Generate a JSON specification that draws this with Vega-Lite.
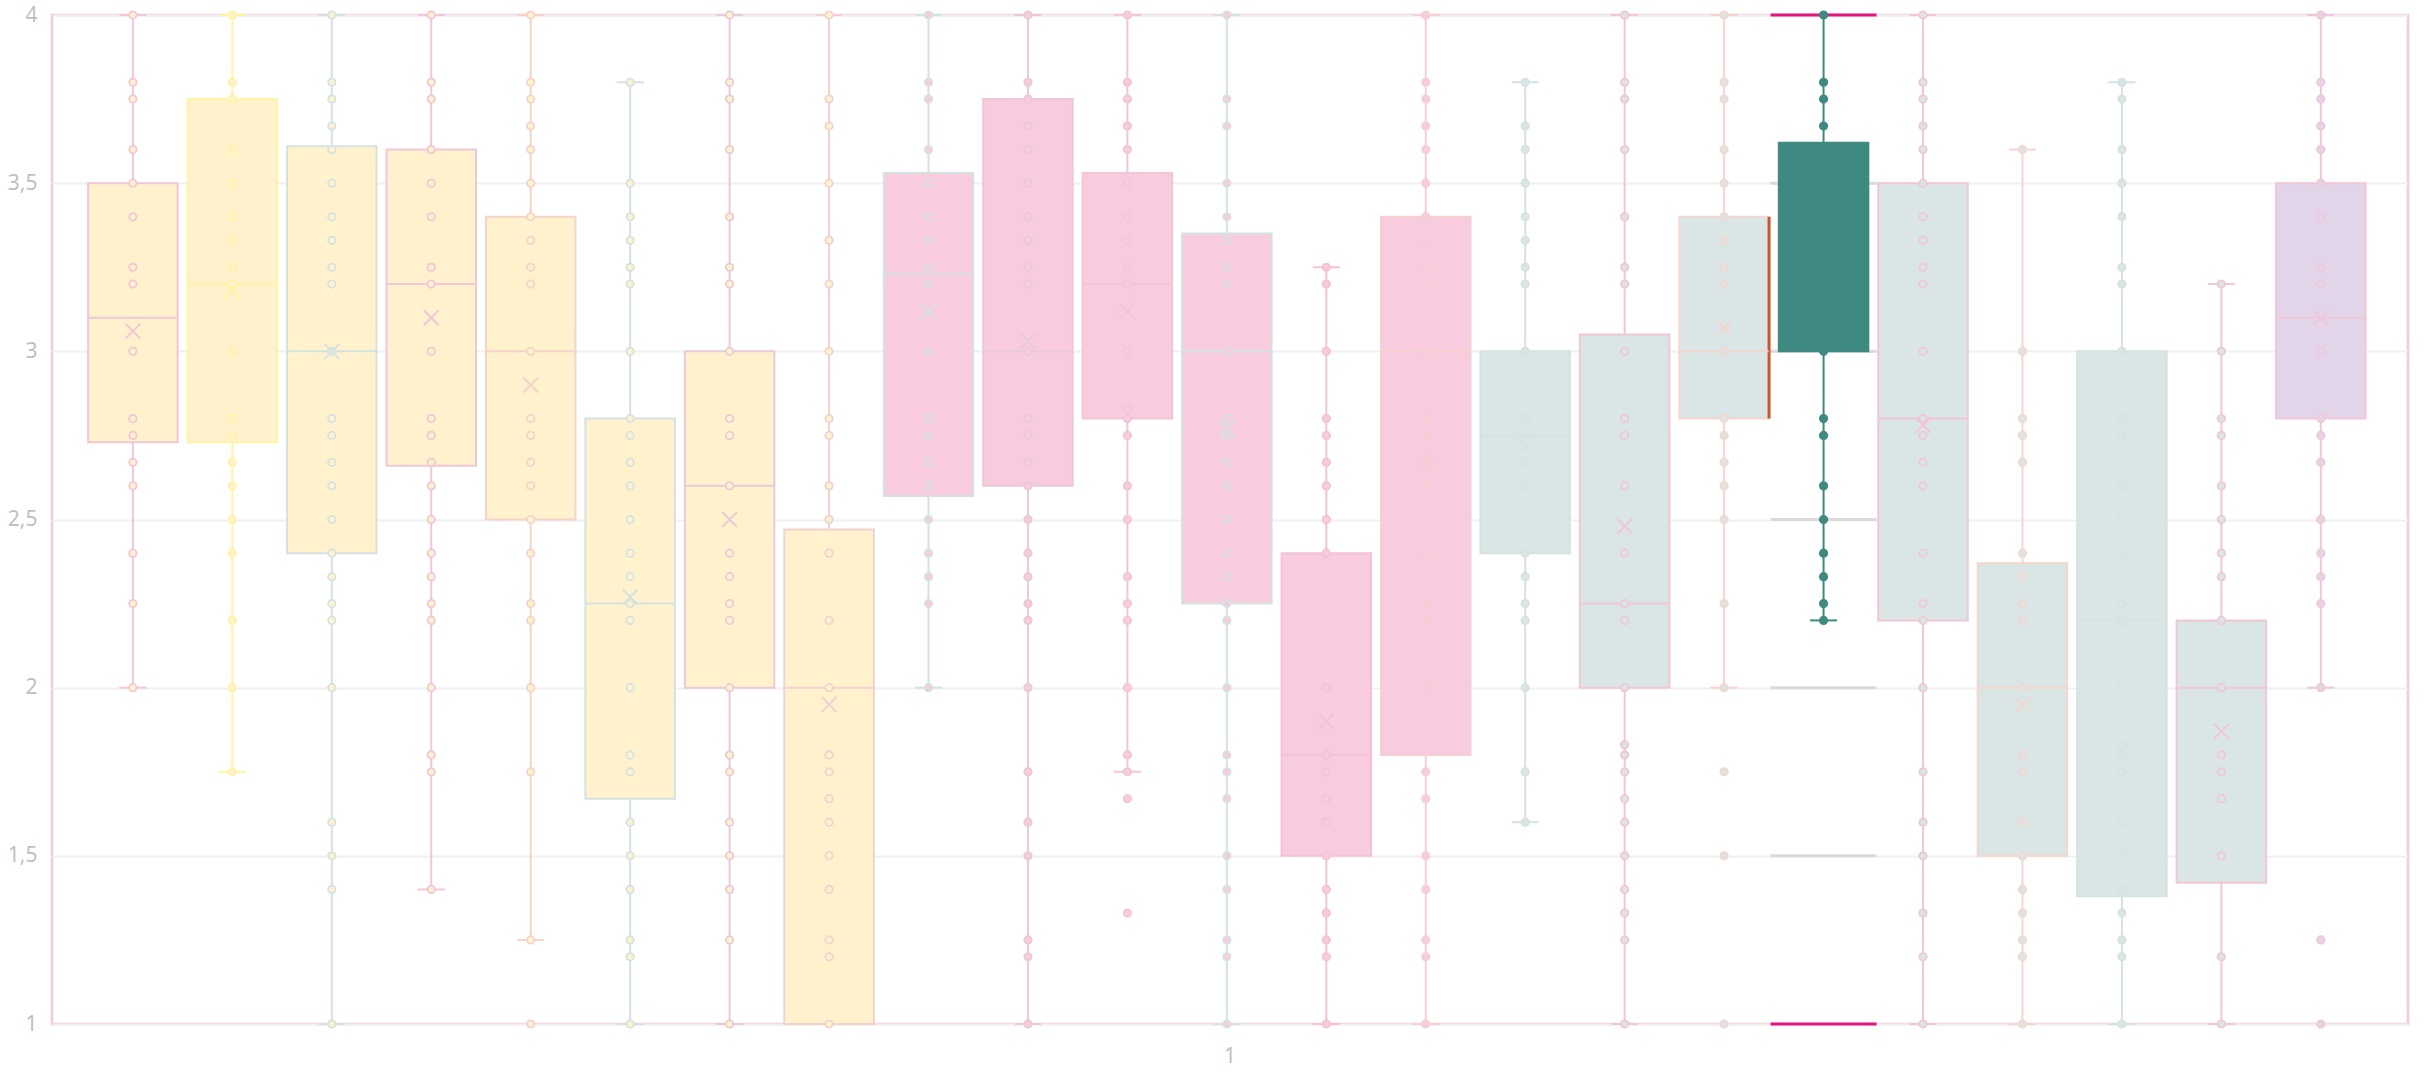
{
"$schema":"https://vega.github.io/schema/vega-lite/v6.json",
"width":2356,"height":1009,
"autosize":{"type":"none"},
"padding":{"left":52,"top":15,"right":17,"bottom":53},
"background":"white",
"config":{"view":{"stroke":"#F5C8DA","strokeWidth":2.5},"font":"Noto Sans","legend":{"disable":true}},
"datasets":{
"boxes":[
{"s":"S1","lo":2,"q1":2.73,"med":3.1,"mean":3.06,"q3":3.5,"hi":4},
{"s":"S2","lo":1.75,"q1":2.73,"med":3.2,"mean":3.18,"q3":3.75,"hi":4},
{"s":"S3","lo":1,"q1":2.4,"med":3,"mean":3,"q3":3.61,"hi":4},
{"s":"S4","lo":1.4,"q1":2.66,"med":3.2,"mean":3.1,"q3":3.6,"hi":4},
{"s":"S5","lo":1.25,"q1":2.5,"med":3,"mean":2.9,"q3":3.4,"hi":4},
{"s":"S6","lo":1,"q1":1.67,"med":2.25,"mean":2.27,"q3":2.8,"hi":3.8},
{"s":"S7","lo":1,"q1":2,"med":2.6,"mean":2.5,"q3":3,"hi":4},
{"s":"S8","lo":1,"q1":1,"med":2,"mean":1.95,"q3":2.47,"hi":4},
{"s":"S9","lo":2,"q1":2.57,"med":3.23,"mean":3.12,"q3":3.53,"hi":4},
{"s":"S10","lo":1,"q1":2.6,"med":3,"mean":3.03,"q3":3.75,"hi":4},
{"s":"S11","lo":1.75,"q1":2.8,"med":3.2,"mean":3.12,"q3":3.53,"hi":4},
{"s":"S12","lo":1,"q1":2.25,"med":3,"mean":2.77,"q3":3.35,"hi":4},
{"s":"S13","lo":1,"q1":1.5,"med":1.8,"mean":1.9,"q3":2.4,"hi":3.25},
{"s":"S14","lo":1,"q1":1.8,"med":3,"mean":2.67,"q3":3.4,"hi":4},
{"s":"S15","lo":1.6,"q1":2.4,"med":2.75,"mean":2.72,"q3":3,"hi":3.8},
{"s":"S16","lo":1,"q1":2,"med":2.25,"mean":2.48,"q3":3.05,"hi":4},
{"s":"S17","lo":2,"q1":2.8,"med":3,"mean":3.07,"q3":3.4,"hi":4},
{"s":"S18","lo":2.2,"q1":3,"med":3.4,"mean":3.34,"q3":3.62,"hi":4},
{"s":"S19","lo":1,"q1":2.2,"med":2.8,"mean":2.78,"q3":3.5,"hi":4},
{"s":"S20","lo":1,"q1":1.5,"med":2,"mean":1.95,"q3":2.37,"hi":3.6},
{"s":"S21","lo":1,"q1":1.38,"med":2.2,"mean":2.2,"q3":3,"hi":3.8},
{"s":"S22","lo":1,"q1":1.42,"med":2,"mean":1.87,"q3":2.2,"hi":3.2},
{"s":"S23","lo":2,"q1":2.8,"med":3.1,"mean":3.1,"q3":3.5,"hi":4}
],
"hl":[{"s":"S18","v":1.5},{"s":"S18","v":2},{"s":"S18","v":2.5},{"s":"S18","v":3},{"s":"S18","v":3.5}],
"hlm":[{"s":"S18","v":4},{"s":"S18","v":1}],
"pts":[
{"s":"S1","v":4},{"s":"S1","v":3.8},{"s":"S1","v":3.75},{"s":"S1","v":3.6},{"s":"S1","v":3.5},{"s":"S1","v":3.4},{"s":"S1","v":3.25},{"s":"S1","v":3.2},{"s":"S1","v":3},{"s":"S1","v":2.8},{"s":"S1","v":2.75},{"s":"S1","v":2.67},{"s":"S1","v":2.6},{"s":"S1","v":2.4},{"s":"S1","v":2.25},{"s":"S1","v":2},
{"s":"S2","v":4},{"s":"S2","v":3.8},{"s":"S2","v":3.75},{"s":"S2","v":3.6},{"s":"S2","v":3.5},{"s":"S2","v":3.4},{"s":"S2","v":3.33},{"s":"S2","v":3.25},{"s":"S2","v":3.2},{"s":"S2","v":3},{"s":"S2","v":2.8},{"s":"S2","v":2.75},{"s":"S2","v":2.67},{"s":"S2","v":2.6},{"s":"S2","v":2.5},{"s":"S2","v":2.4},{"s":"S2","v":2.2},{"s":"S2","v":2},{"s":"S2","v":1.75},
{"s":"S3","v":4},{"s":"S3","v":3.8},{"s":"S3","v":3.75},{"s":"S3","v":3.67},{"s":"S3","v":3.6},{"s":"S3","v":3.5},{"s":"S3","v":3.4},{"s":"S3","v":3.33},{"s":"S3","v":3.25},{"s":"S3","v":3.2},{"s":"S3","v":3},{"s":"S3","v":2.8},{"s":"S3","v":2.75},{"s":"S3","v":2.67},{"s":"S3","v":2.6},{"s":"S3","v":2.5},{"s":"S3","v":2.4},{"s":"S3","v":2.33},{"s":"S3","v":2.25},{"s":"S3","v":2.2},{"s":"S3","v":2},{"s":"S3","v":1.6},{"s":"S3","v":1.5},{"s":"S3","v":1.4},{"s":"S3","v":1},
{"s":"S4","v":4},{"s":"S4","v":3.8},{"s":"S4","v":3.75},{"s":"S4","v":3.6},{"s":"S4","v":3.5},{"s":"S4","v":3.4},{"s":"S4","v":3.25},{"s":"S4","v":3.2},{"s":"S4","v":3},{"s":"S4","v":2.8},{"s":"S4","v":2.75},{"s":"S4","v":2.67},{"s":"S4","v":2.6},{"s":"S4","v":2.5},{"s":"S4","v":2.4},{"s":"S4","v":2.33},{"s":"S4","v":2.25},{"s":"S4","v":2.2},{"s":"S4","v":2},{"s":"S4","v":1.8},{"s":"S4","v":1.75},{"s":"S4","v":1.4},
{"s":"S5","v":4},{"s":"S5","v":3.8},{"s":"S5","v":3.75},{"s":"S5","v":3.67},{"s":"S5","v":3.6},{"s":"S5","v":3.5},{"s":"S5","v":3.4},{"s":"S5","v":3.33},{"s":"S5","v":3.25},{"s":"S5","v":3.2},{"s":"S5","v":3},{"s":"S5","v":2.8},{"s":"S5","v":2.75},{"s":"S5","v":2.67},{"s":"S5","v":2.6},{"s":"S5","v":2.5},{"s":"S5","v":2.4},{"s":"S5","v":2.25},{"s":"S5","v":2.2},{"s":"S5","v":2},{"s":"S5","v":1.75},{"s":"S5","v":1.25},{"s":"S5","v":1},
{"s":"S6","v":3.8},{"s":"S6","v":3.5},{"s":"S6","v":3.4},{"s":"S6","v":3.33},{"s":"S6","v":3.25},{"s":"S6","v":3.2},{"s":"S6","v":3},{"s":"S6","v":2.8},{"s":"S6","v":2.75},{"s":"S6","v":2.67},{"s":"S6","v":2.6},{"s":"S6","v":2.5},{"s":"S6","v":2.4},{"s":"S6","v":2.33},{"s":"S6","v":2.25},{"s":"S6","v":2.2},{"s":"S6","v":2},{"s":"S6","v":1.8},{"s":"S6","v":1.75},{"s":"S6","v":1.6},{"s":"S6","v":1.5},{"s":"S6","v":1.4},{"s":"S6","v":1.25},{"s":"S6","v":1.2},{"s":"S6","v":1},
{"s":"S7","v":4},{"s":"S7","v":3.8},{"s":"S7","v":3.75},{"s":"S7","v":3.6},{"s":"S7","v":3.4},{"s":"S7","v":3.25},{"s":"S7","v":3.2},{"s":"S7","v":3},{"s":"S7","v":2.8},{"s":"S7","v":2.75},{"s":"S7","v":2.6},{"s":"S7","v":2.4},{"s":"S7","v":2.33},{"s":"S7","v":2.25},{"s":"S7","v":2.2},{"s":"S7","v":2},{"s":"S7","v":1.8},{"s":"S7","v":1.75},{"s":"S7","v":1.6},{"s":"S7","v":1.5},{"s":"S7","v":1.4},{"s":"S7","v":1.25},{"s":"S7","v":1},
{"s":"S8","v":4},{"s":"S8","v":3.75},{"s":"S8","v":3.67},{"s":"S8","v":3.5},{"s":"S8","v":3.33},{"s":"S8","v":3.2},{"s":"S8","v":3},{"s":"S8","v":2.8},{"s":"S8","v":2.75},{"s":"S8","v":2.6},{"s":"S8","v":2.5},{"s":"S8","v":2.4},{"s":"S8","v":2.2},{"s":"S8","v":2},{"s":"S8","v":1.8},{"s":"S8","v":1.75},{"s":"S8","v":1.67},{"s":"S8","v":1.6},{"s":"S8","v":1.5},{"s":"S8","v":1.4},{"s":"S8","v":1.25},{"s":"S8","v":1.2},{"s":"S8","v":1},
{"s":"S9","v":4},{"s":"S9","v":3.8},{"s":"S9","v":3.75},{"s":"S9","v":3.6},{"s":"S9","v":3.5},{"s":"S9","v":3.4},{"s":"S9","v":3.33},{"s":"S9","v":3.25},{"s":"S9","v":3.2},{"s":"S9","v":3},{"s":"S9","v":2.8},{"s":"S9","v":2.75},{"s":"S9","v":2.67},{"s":"S9","v":2.6},{"s":"S9","v":2.5},{"s":"S9","v":2.4},{"s":"S9","v":2.33},{"s":"S9","v":2.25},{"s":"S9","v":2},
{"s":"S10","v":4},{"s":"S10","v":3.8},{"s":"S10","v":3.75},{"s":"S10","v":3.67},{"s":"S10","v":3.6},{"s":"S10","v":3.5},{"s":"S10","v":3.4},{"s":"S10","v":3.33},{"s":"S10","v":3.25},{"s":"S10","v":3.2},{"s":"S10","v":3},{"s":"S10","v":2.8},{"s":"S10","v":2.75},{"s":"S10","v":2.67},{"s":"S10","v":2.6},{"s":"S10","v":2.5},{"s":"S10","v":2.4},{"s":"S10","v":2.33},{"s":"S10","v":2.25},{"s":"S10","v":2.2},{"s":"S10","v":2},{"s":"S10","v":1.75},{"s":"S10","v":1.6},{"s":"S10","v":1.5},{"s":"S10","v":1.25},{"s":"S10","v":1.2},{"s":"S10","v":1},
{"s":"S11","v":4},{"s":"S11","v":3.8},{"s":"S11","v":3.75},{"s":"S11","v":3.67},{"s":"S11","v":3.6},{"s":"S11","v":3.5},{"s":"S11","v":3.4},{"s":"S11","v":3.33},{"s":"S11","v":3.25},{"s":"S11","v":3.2},{"s":"S11","v":3},{"s":"S11","v":2.83},{"s":"S11","v":2.8},{"s":"S11","v":2.75},{"s":"S11","v":2.6},{"s":"S11","v":2.5},{"s":"S11","v":2.33},{"s":"S11","v":2.25},{"s":"S11","v":2.2},{"s":"S11","v":2},{"s":"S11","v":1.8},{"s":"S11","v":1.75},{"s":"S11","v":1.67},{"s":"S11","v":1.33},
{"s":"S12","v":4},{"s":"S12","v":3.75},{"s":"S12","v":3.67},{"s":"S12","v":3.5},{"s":"S12","v":3.4},{"s":"S12","v":3.33},{"s":"S12","v":3.25},{"s":"S12","v":3.2},{"s":"S12","v":3},{"s":"S12","v":2.8},{"s":"S12","v":2.75},{"s":"S12","v":2.67},{"s":"S12","v":2.6},{"s":"S12","v":2.5},{"s":"S12","v":2.4},{"s":"S12","v":2.33},{"s":"S12","v":2.25},{"s":"S12","v":2.2},{"s":"S12","v":2},{"s":"S12","v":1.8},{"s":"S12","v":1.75},{"s":"S12","v":1.67},{"s":"S12","v":1.5},{"s":"S12","v":1.4},{"s":"S12","v":1.25},{"s":"S12","v":1.2},{"s":"S12","v":1},
{"s":"S13","v":3.25},{"s":"S13","v":3.2},{"s":"S13","v":3},{"s":"S13","v":2.8},{"s":"S13","v":2.75},{"s":"S13","v":2.67},{"s":"S13","v":2.6},{"s":"S13","v":2.5},{"s":"S13","v":2.4},{"s":"S13","v":2},{"s":"S13","v":1.8},{"s":"S13","v":1.75},{"s":"S13","v":1.67},{"s":"S13","v":1.6},{"s":"S13","v":1.5},{"s":"S13","v":1.4},{"s":"S13","v":1.33},{"s":"S13","v":1.25},{"s":"S13","v":1.2},{"s":"S13","v":1},
{"s":"S14","v":4},{"s":"S14","v":3.8},{"s":"S14","v":3.75},{"s":"S14","v":3.67},{"s":"S14","v":3.6},{"s":"S14","v":3.5},{"s":"S14","v":3.4},{"s":"S14","v":3.33},{"s":"S14","v":3.25},{"s":"S14","v":3.2},{"s":"S14","v":3},{"s":"S14","v":2.8},{"s":"S14","v":2.75},{"s":"S14","v":2.6},{"s":"S14","v":2.4},{"s":"S14","v":2.25},{"s":"S14","v":2.2},{"s":"S14","v":2},{"s":"S14","v":1.75},{"s":"S14","v":1.67},{"s":"S14","v":1.5},{"s":"S14","v":1.4},{"s":"S14","v":1.25},{"s":"S14","v":1.2},{"s":"S14","v":1},
{"s":"S15","v":3.8},{"s":"S15","v":3.67},{"s":"S15","v":3.6},{"s":"S15","v":3.5},{"s":"S15","v":3.4},{"s":"S15","v":3.33},{"s":"S15","v":3.25},{"s":"S15","v":3.2},{"s":"S15","v":3},{"s":"S15","v":2.8},{"s":"S15","v":2.67},{"s":"S15","v":2.6},{"s":"S15","v":2.4},{"s":"S15","v":2.33},{"s":"S15","v":2.25},{"s":"S15","v":2.2},{"s":"S15","v":2},{"s":"S15","v":1.75},{"s":"S15","v":1.6},
{"s":"S16","v":4},{"s":"S16","v":3.8},{"s":"S16","v":3.75},{"s":"S16","v":3.6},{"s":"S16","v":3.4},{"s":"S16","v":3.25},{"s":"S16","v":3.2},{"s":"S16","v":3},{"s":"S16","v":2.8},{"s":"S16","v":2.75},{"s":"S16","v":2.6},{"s":"S16","v":2.4},{"s":"S16","v":2.25},{"s":"S16","v":2.2},{"s":"S16","v":2},{"s":"S16","v":1.83},{"s":"S16","v":1.8},{"s":"S16","v":1.75},{"s":"S16","v":1.67},{"s":"S16","v":1.6},{"s":"S16","v":1.5},{"s":"S16","v":1.4},{"s":"S16","v":1.33},{"s":"S16","v":1.25},{"s":"S16","v":1},
{"s":"S17","v":4},{"s":"S17","v":3.8},{"s":"S17","v":3.75},{"s":"S17","v":3.6},{"s":"S17","v":3.5},{"s":"S17","v":3.4},{"s":"S17","v":3.33},{"s":"S17","v":3.25},{"s":"S17","v":3.2},{"s":"S17","v":3},{"s":"S17","v":2.8},{"s":"S17","v":2.75},{"s":"S17","v":2.67},{"s":"S17","v":2.6},{"s":"S17","v":2.5},{"s":"S17","v":2.25},{"s":"S17","v":2},{"s":"S17","v":1.75},{"s":"S17","v":1.5},{"s":"S17","v":1},
{"s":"S18","v":4},{"s":"S18","v":3.8},{"s":"S18","v":3.75},{"s":"S18","v":3.67},{"s":"S18","v":3.6},{"s":"S18","v":3.5},{"s":"S18","v":3.4},{"s":"S18","v":3.25},{"s":"S18","v":3.2},{"s":"S18","v":3},{"s":"S18","v":2.8},{"s":"S18","v":2.75},{"s":"S18","v":2.6},{"s":"S18","v":2.5},{"s":"S18","v":2.4},{"s":"S18","v":2.33},{"s":"S18","v":2.25},{"s":"S18","v":2.2},
{"s":"S19","v":4},{"s":"S19","v":3.8},{"s":"S19","v":3.75},{"s":"S19","v":3.67},{"s":"S19","v":3.6},{"s":"S19","v":3.5},{"s":"S19","v":3.4},{"s":"S19","v":3.33},{"s":"S19","v":3.25},{"s":"S19","v":3.2},{"s":"S19","v":3},{"s":"S19","v":2.8},{"s":"S19","v":2.75},{"s":"S19","v":2.67},{"s":"S19","v":2.6},{"s":"S19","v":2.4},{"s":"S19","v":2.25},{"s":"S19","v":2.2},{"s":"S19","v":2},{"s":"S19","v":1.75},{"s":"S19","v":1.6},{"s":"S19","v":1.5},{"s":"S19","v":1.33},{"s":"S19","v":1.2},{"s":"S19","v":1},
{"s":"S20","v":3.6},{"s":"S20","v":3},{"s":"S20","v":2.8},{"s":"S20","v":2.75},{"s":"S20","v":2.67},{"s":"S20","v":2.4},{"s":"S20","v":2.33},{"s":"S20","v":2.25},{"s":"S20","v":2.2},{"s":"S20","v":2},{"s":"S20","v":1.8},{"s":"S20","v":1.75},{"s":"S20","v":1.6},{"s":"S20","v":1.5},{"s":"S20","v":1.4},{"s":"S20","v":1.33},{"s":"S20","v":1.25},{"s":"S20","v":1.2},{"s":"S20","v":1},
{"s":"S21","v":3.8},{"s":"S21","v":3.75},{"s":"S21","v":3.6},{"s":"S21","v":3.5},{"s":"S21","v":3.4},{"s":"S21","v":3.25},{"s":"S21","v":3.2},{"s":"S21","v":3},{"s":"S21","v":2.8},{"s":"S21","v":2.75},{"s":"S21","v":2.6},{"s":"S21","v":2.5},{"s":"S21","v":2.4},{"s":"S21","v":2.33},{"s":"S21","v":2.25},{"s":"S21","v":2.2},{"s":"S21","v":2},{"s":"S21","v":1.83},{"s":"S21","v":1.8},{"s":"S21","v":1.75},{"s":"S21","v":1.6},{"s":"S21","v":1.5},{"s":"S21","v":1.4},{"s":"S21","v":1.33},{"s":"S21","v":1.25},{"s":"S21","v":1.2},{"s":"S21","v":1},
{"s":"S22","v":3.2},{"s":"S22","v":3},{"s":"S22","v":2.8},{"s":"S22","v":2.75},{"s":"S22","v":2.6},{"s":"S22","v":2.5},{"s":"S22","v":2.4},{"s":"S22","v":2.33},{"s":"S22","v":2.2},{"s":"S22","v":2},{"s":"S22","v":1.8},{"s":"S22","v":1.75},{"s":"S22","v":1.67},{"s":"S22","v":1.5},{"s":"S22","v":1.2},{"s":"S22","v":1},
{"s":"S23","v":4},{"s":"S23","v":3.8},{"s":"S23","v":3.75},{"s":"S23","v":3.67},{"s":"S23","v":3.6},{"s":"S23","v":3.5},{"s":"S23","v":3.4},{"s":"S23","v":3.25},{"s":"S23","v":3.2},{"s":"S23","v":3},{"s":"S23","v":2.8},{"s":"S23","v":2.75},{"s":"S23","v":2.67},{"s":"S23","v":2.5},{"s":"S23","v":2.4},{"s":"S23","v":2.33},{"s":"S23","v":2.25},{"s":"S23","v":2},{"s":"S23","v":1.25},{"s":"S23","v":1}
]
},
"encoding":{
"x":{"datum":"1","type":"nominal","scale":{"type":"band","paddingInner":0,"paddingOuter":0},"axis":{"title":null,"domain":false,"ticks":false,"grid":false,"labelAngle":0,"labelFontSize":21,"labelColor":"#BFBFBF","labelPadding":21,"labelFont":"Noto Sans"}}
},
"layer":[
{"data":{"name":"hl"},"mark":{"type":"tick","orient":"horizontal","size":106,"thickness":3,"color":"#DADADA","opacity":1},
 "encoding":{"xOffset":{"field":"s","type":"nominal","scale":{"domain":["S1","S2","S3","S4","S5","S6","S7","S8","S9","S10","S11","S12","S13","S14","S15","S16","S17","S18","S19","S20","S21","S22","S23"],"paddingInner":0.1,"paddingOuter":0.395,"align":0.46}},
  "y":{"field":"v","type":"quantitative","scale":{"domain":[1,4],"nice":false,"zero":false},"axis":{"values":[1,1.5,2,2.5,3,3.5,4],"labelExpr":"replace(toString(datum.value),'.',',')","domain":false,"ticks":false,"grid":true,"gridColor":"#F0F0F0","gridWidth":2,"labelFontSize":21,"labelColor":"#BFBFBF","labelPadding":15,"title":null,"labelFont":"Noto Sans"}}}},
{"data":{"name":"boxes"},"mark":{"type":"rule","strokeWidth":2},
 "encoding":{"xOffset":{"field":"s","type":"nominal"},"y":{"field":"lo","type":"quantitative","title":null},"y2":{"field":"hi"},
  "stroke":{"field":"s","type":"nominal","legend":null,"scale":{"domain":["S1","S2","S3","S4","S5","S6","S7","S8","S9","S10","S11","S12","S13","S14","S15","S16","S17","S18","S19","S20","S21","S22","S23"],"range":["#F2C6D6","#FFF3A6","#D4E2E1","#F2C6D6","#F5D3C9","#D4E2E1","#E9CAD8","#F1D2CF","#D4E2E1","#EAC9D6","#F2C6D6","#D4E2E1","#F4C2D6","#F4D0D0","#D4E2E1","#F2C6D6","#F5D6CE","#3F8A80","#F2C6D6","#F5D6CE","#D4E2E1","#F2C6D6","#F2C6D6"]}}}},
{"data":{"name":"boxes"},"mark":{"type":"tick","orient":"horizontal","size":27,"thickness":2,"opacity":1},
 "encoding":{"xOffset":{"field":"s","type":"nominal"},"y":{"field":"lo","type":"quantitative","title":null},
  "color":{"field":"s","type":"nominal","legend":null,"scale":{"domain":["S1","S2","S3","S4","S5","S6","S7","S8","S9","S10","S11","S12","S13","S14","S15","S16","S17","S18","S19","S20","S21","S22","S23"],"range":["#F2C6D6","#FFF3A6","#D4E2E1","#F2C6D6","#F5D3C9","#D4E2E1","#E9CAD8","#F1D2CF","#D4E2E1","#EAC9D6","#F2C6D6","#D4E2E1","#F4C2D6","#F4D0D0","#D4E2E1","#F2C6D6","#F5D6CE","#3F8A80","#F2C6D6","#F5D6CE","#D4E2E1","#F2C6D6","#F2C6D6"]}}}},
{"data":{"name":"boxes"},"mark":{"type":"tick","orient":"horizontal","size":27,"thickness":2,"opacity":1},
 "encoding":{"xOffset":{"field":"s","type":"nominal"},"y":{"field":"hi","type":"quantitative","title":null},
  "color":{"field":"s","type":"nominal","legend":null}}},
{"data":{"name":"boxes"},"mark":{"type":"bar","strokeWidth":2,"opacity":1},
 "encoding":{"xOffset":{"field":"s","type":"nominal"},"y":{"field":"q1","type":"quantitative","title":null},"y2":{"field":"q3"},
  "fill":{"field":"s","type":"nominal","legend":null,"scale":{"domain":["S1","S2","S3","S4","S5","S6","S7","S8","S9","S10","S11","S12","S13","S14","S15","S16","S17","S18","S19","S20","S21","S22","S23"],"range":["#FFF2CC","#FFF2CC","#FFF2CC","#FFF2CC","#FFF2CC","#FFF2CC","#FFF2CC","#FFF2CC","#F8CBDF","#F8CBDF","#F8CBDF","#F8CBDF","#F8CBDF","#F8CBDF","#D9E6E5","#D9E6E5","#D9E6E5","#3F8A80","#D9E6E5","#D9E6E5","#D9E6E5","#D9E6E5","#E2D5EA"]}},
  "stroke":{"field":"s","type":"nominal","legend":null}}},
{"data":{"name":"boxes"},"transform":[{"filter":"datum.s == 'S17'"}],"mark":{"type":"rule","color":"#C9552F","strokeWidth":3},
 "encoding":{"x":{"datum":"1","type":"nominal","bandPosition":0.7288},"y":{"field":"q1","type":"quantitative","title":null},"y2":{"field":"q3"}}},
{"data":{"name":"boxes"},"mark":{"type":"tick","orient":"horizontal","size":89,"thickness":2,"opacity":1},
 "encoding":{"xOffset":{"field":"s","type":"nominal"},"y":{"field":"med","type":"quantitative","title":null},
  "color":{"field":"s","type":"nominal","legend":null}}},
{"data":{"name":"hlm"},"mark":{"type":"tick","orient":"horizontal","size":106,"thickness":3,"color":"#E3157F","opacity":1},
 "encoding":{"xOffset":{"field":"s","type":"nominal"},"y":{"field":"v","type":"quantitative","title":null}}},
{"data":{"name":"pts"},"mark":{"type":"point","shape":"circle","size":55,"strokeWidth":1.8,"filled":true,"opacity":1},
 "encoding":{"xOffset":{"field":"s","type":"nominal"},"y":{"field":"v","type":"quantitative","title":null},
  "fill":{"field":"s","type":"nominal","legend":null},
  "stroke":{"field":"s","type":"nominal","legend":null}}},
{"data":{"name":"boxes"},"mark":{"type":"point","shape":"M-1,-1L1,1M-1,1L1,-1","size":225,"strokeWidth":2,"filled":false,"opacity":1},
 "encoding":{"xOffset":{"field":"s","type":"nominal"},"y":{"field":"mean","type":"quantitative","title":null},
  "stroke":{"field":"s","type":"nominal","legend":null}}}
]
}
